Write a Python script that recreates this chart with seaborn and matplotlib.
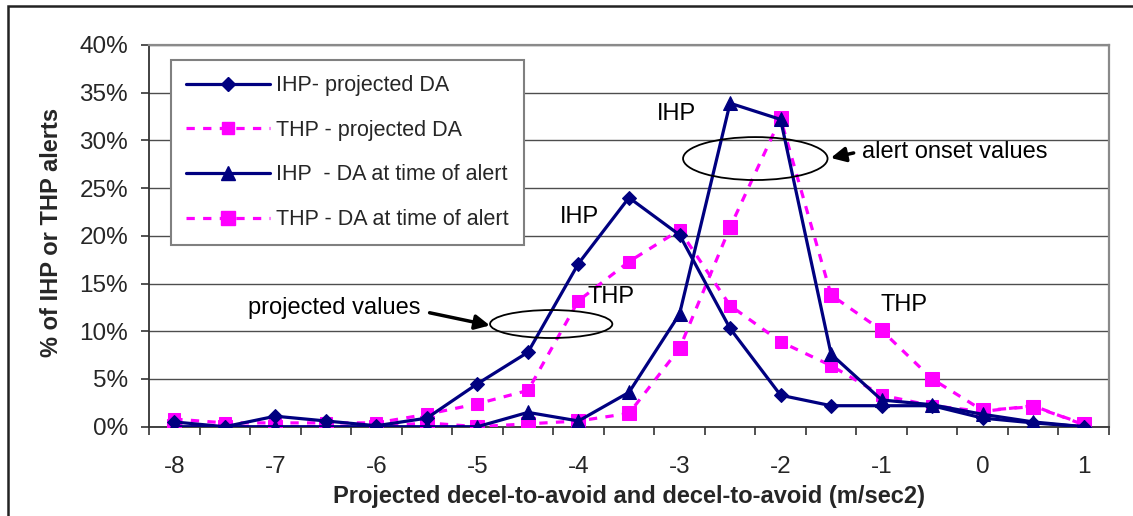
import numpy as np
import pandas as pd
import matplotlib
matplotlib.use("Agg")
import matplotlib.pyplot as plt
from matplotlib.lines import Line2D
from matplotlib.patches import Ellipse, Rectangle
import seaborn as sns

# === Dados (percentual de alertas) ===
da = [-8, -7.5, -7, -6.5, -6, -5.5, -5, -4.5, -4, -3.5, -3, -2.5, -2, -1.5, -1, -0.5, 0, 0.5, 1]
ihp_proj = [0.5, 0.0, 1.1, 0.6, 0.1, 0.9, 4.5, 7.8, 17.1, 24.0, 20.1, 10.3, 3.3, 2.2, 2.2, 2.2, 0.9, 0.4, 0.0]
thp_proj = [0.8, 0.4, 0.4, 0.4, 0.4, 1.3, 2.4, 3.8, 13.2, 17.3, 20.6, 12.7, 8.9, 6.4, 3.3, 2.2, 1.6, 2.2, 0.2]
ihp_alert = [0.0, 0.0, 0.0, 0.0, 0.0, 0.0, 0.0, 1.5, 0.6, 3.6, 11.8, 33.9, 32.2, 7.6, 2.8, 2.3, 1.3, 0.5, 0.0]
thp_alert = [0.1, 0.0, 0.0, 0.0, 0.0, 0.4, 0.0, 0.3, 0.6, 1.4, 8.2, 20.9, 32.3, 13.8, 10.1, 5.0, 1.7, 2.1, 0.3]

labels = ["IHP- projected DA", "THP - projected DA",
          "IHP  - DA at time of alert", "THP - DA at time of alert"]
x_labels = [-8, -7, -6, -5, -4, -3, -2, -1, 0, 1]

df = pd.DataFrame({"da": da, "ihp_proj": ihp_proj, "thp_proj": thp_proj,
                   "ihp_alert": ihp_alert, "thp_alert": thp_alert})

sns.set_style("white")
plt.rcParams["font.family"] = ["Liberation Sans", "DejaVu Sans"]

NAVY = "#000080"
PINK = "#FF00FF"
DASH = (0, (2.6, 2.6))

fig = plt.figure(figsize=(11.33, 5.16), dpi=100)
ax = fig.add_axes([149 / 1133, 1 - 426.7 / 516, 960 / 1133, 381.7 / 516])

# === Séries ===
sns.lineplot(data=df, x="da", y="ihp_proj", ax=ax, color=NAVY, lw=2.3,
             marker="D", markersize=7, markeredgecolor=NAVY, zorder=4)
sns.lineplot(data=df, x="da", y="thp_proj", ax=ax, color=PINK, lw=2.3, linestyle=DASH,
             marker="s", markersize=8, markeredgecolor=PINK, zorder=3)
sns.lineplot(data=df, x="da", y="ihp_alert", ax=ax, color=NAVY, lw=2.3,
             marker="^", markersize=9.5, markeredgecolor=NAVY, zorder=4)
sns.lineplot(data=df, x="da", y="thp_alert", ax=ax, color=PINK, lw=2.3, linestyle=DASH,
             marker="s", markersize=10.5, markeredgecolor=PINK, zorder=3)

# === Eixos ===
ax.set_xlim(-8.25, 1.25)
ax.set_ylim(0, 40)
ax.set_xticks(np.arange(-8.25, 1.26, 0.5))
ax.set_xticklabels([])
ax.set_xticks(x_labels, minor=True)
ax.set_xticklabels([str(v) for v in x_labels], minor=True)
ax.tick_params(axis="x", which="major", direction="out", length=6, width=1.2, color="#333333", bottom=True)
ax.tick_params(axis="x", which="minor", length=0, pad=21, labelsize=17.5)
ax.set_yticks(range(0, 41, 5))
ax.set_yticklabels([f"{v}%" for v in range(0, 41, 5)])
ax.tick_params(axis="y", direction="out", length=6, width=1.2, color="#333333", left=True,
               labelsize=17.5, pad=9)
ax.yaxis.grid(True, color="#4d4d4d", lw=1.0)
ax.set_axisbelow(True)
for s in ["left", "bottom"]:
    ax.spines[s].set_color("#333333")
    ax.spines[s].set_linewidth(1.3)
for s in ["top", "right"]:
    ax.spines[s].set_color("#8a8a8a")
    ax.spines[s].set_linewidth(1.6)

ax.set_xlabel("Projected decel-to-avoid and decel-to-avoid (m/sec2)", fontsize=17, fontweight="bold")
ax.set_ylabel("% of IHP or THP alerts", fontsize=17, fontweight="bold")
ax.xaxis.set_label_coords(0.5, -0.152)
ax.yaxis.set_label_coords(-0.09, 0.51)

# === Legenda ===
handles = [
    Line2D([], [], color=NAVY, lw=2.3, marker="D", markersize=7),
    Line2D([], [], color=PINK, lw=2.3, linestyle=DASH, marker="s", markersize=8),
    Line2D([], [], color=NAVY, lw=2.3, marker="^", markersize=9.5),
    Line2D([], [], color=PINK, lw=2.3, linestyle=DASH, marker="s", markersize=10.5),
]
leg = ax.legend(handles, labels, loc="upper left", bbox_to_anchor=(0.0229, 0.9607),
                borderaxespad=0, fontsize=15.5, handlelength=3.9, handletextpad=0.3,
                labelspacing=1.1, borderpad=0.7, fancybox=False, framealpha=1,
                edgecolor="#808080")
leg.get_frame().set_linewidth(1.5)

# === Anotações ===
txt = dict(fontsize=17, color="black")
ax.text(-3.03, 32.8, "IHP", ha="center", va="center", **txt)
ax.text(-3.99, 22.0, "IHP", ha="center", va="center", **txt)
ax.text(-3.68, 13.6, "THP", ha="center", va="center", **txt)
ax.text(-0.78, 12.75, "THP", ha="center", va="center", **txt)
ax.text(-1.19, 28.8, "alert onset values", ha="left", va="center", **txt)
ax.text(-5.56, 12.4, "projected values", ha="right", va="center", **txt)

ax.add_patch(Ellipse((-4.27, 10.76), 1.21, 2.93, fill=False, ec="black", lw=1.3, zorder=5))
ax.add_patch(Ellipse((-2.25, 28.1), 1.43, 4.5, fill=False, ec="black", lw=1.3, zorder=5))
ax.annotate("", xy=(-4.85, 10.55), xytext=(-5.5, 12.0),
            arrowprops=dict(arrowstyle="-|>", color="black", lw=2.5, mutation_scale=22))
ax.annotate("", xy=(-1.53, 28.1), xytext=(-1.25, 28.75),
            arrowprops=dict(arrowstyle="-|>", color="black", lw=2.5, mutation_scale=22))

# === Moldura externa ===
fig.patches.append(Rectangle((8 / 1133, -0.1), 1.2, 1.1 - 5.7 / 516, transform=fig.transFigure,
                             fill=False, ec="#222222", lw=1.8))

fig.savefig("out.png", dpi=100)
